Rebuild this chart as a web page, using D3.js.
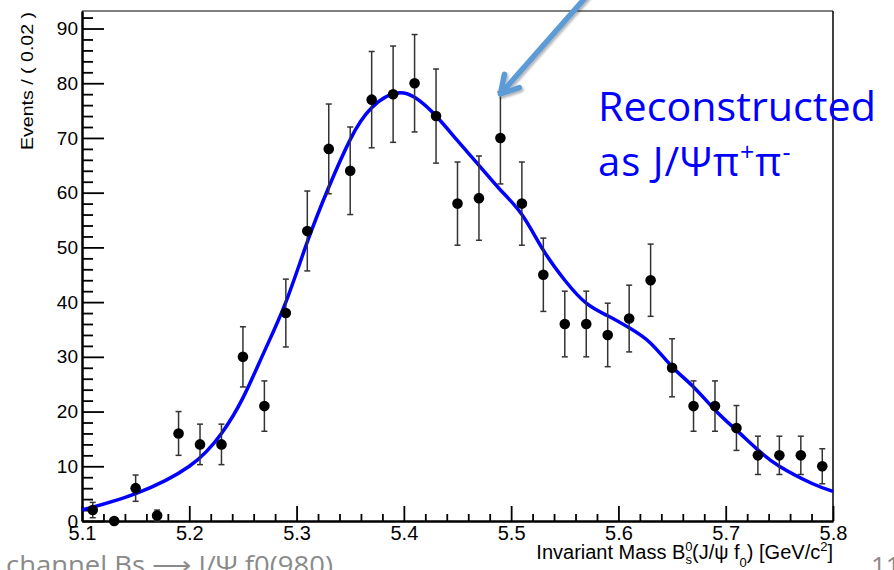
<!DOCTYPE html>
<html>
<head>
<meta charset="utf-8">
<script src="https://cdn.jsdelivr.net/npm/d3@7"></script>
<style>
  body { margin: 0; background: #fff; }
  svg { display: block; font-family: "Liberation Sans", Arial, sans-serif; }
</style>
</head>
<body>
<svg id="chart" width="894" height="570"></svg>
<script>
// bins of 0.02 GeV, counts
const binCenters = [5.11, 5.13, 5.15, 5.17, 5.19, 5.21, 5.23, 5.25, 5.27, 5.29,
                    5.31, 5.33, 5.35, 5.37, 5.39, 5.41, 5.43, 5.45, 5.47, 5.49,
                    5.51, 5.53, 5.55, 5.57, 5.59, 5.61, 5.63, 5.65, 5.67, 5.69,
                    5.71, 5.73, 5.75, 5.77, 5.79];
const events = [2, 0, 6, 1, 16, 14, 14, 30, 21, 38,
                53, 68, 64, 77, 78, 80, 74, 58, 59, 70,
                58, 45, 36, 36, 34, 37, 44, 28, 21, 21,
                17, 12, 12, 12, 10];
const errors = [1.4, 0, 2.4, 1, 4, 3.7, 3.7, 5.5, 4.6, 6.2,
                7.3, 8.2, 8, 8.8, 8.8, 8.9, 8.6, 7.6, 7.7, 8.4,
                7.6, 6.7, 6, 6, 5.8, 6.1, 6.6, 5.3, 4.6, 4.6,
                4.1, 3.5, 3.5, 3.5, 3.2];

// fit curve, sampled by eye
const fitX = [5.10, 5.15, 5.20, 5.23, 5.25, 5.27, 5.29, 5.31, 5.33, 5.35,
              5.37, 5.40, 5.43, 5.45, 5.47, 5.49, 5.51, 5.53, 5.55,
              5.57, 5.59, 5.61, 5.63, 5.65, 5.67, 5.69, 5.71, 5.73, 5.75,
              5.78, 5.80];
const fitY = [2.0, 5.0, 10, 16, 22.5, 31, 40, 51, 61, 69.7,
              75.5, 78.2, 74, 69.5, 65, 60.5, 56, 49.5, 44,
              39.8, 37.5, 35.3, 32.5, 28.2, 24.5, 20.3, 16.6, 13, 10,
              6.9, 5.4];

const xTicks = [5.1, 5.2, 5.3, 5.4, 5.5, 5.6, 5.7, 5.8];
const xMinor = [5.12, 5.14, 5.16, 5.18, 5.22, 5.24, 5.26, 5.28, 5.32, 5.34, 5.36, 5.38,
                5.42, 5.44, 5.46, 5.48, 5.52, 5.54, 5.56, 5.58, 5.62, 5.64, 5.66, 5.68,
                5.72, 5.74, 5.76, 5.78];
const yTicks = [0, 10, 20, 30, 40, 50, 60, 70, 80, 90];
const yMinor = [2, 4, 6, 8, 12, 14, 16, 18, 22, 24, 26, 28, 32, 34, 36, 38, 42, 44, 46, 48,
                52, 54, 56, 58, 62, 64, 66, 68, 72, 74, 76, 78, 82, 84, 86, 88, 92];

const svg = d3.select('#chart');

const x = d3.scaleLinear().domain([5.1, 5.8]).range([82, 833]);
const y = d3.scaleLinear().domain([0, 93.2]).range([521, 11]);

// drop shadow for the annotation arrow
const defs = svg.append('defs');
defs.append('filter').attr('id', 'shadow')
  .attr('x', '-20%').attr('y', '-20%').attr('width', '140%').attr('height', '140%')
  .append('feDropShadow')
  .attr('dx', 1.5).attr('dy', 2).attr('stdDeviation', 1.2)
  .attr('flood-color', '#000').attr('flood-opacity', 0.3);

// frame top / right
svg.append('line')
  .attr('x1', x(5.1)).attr('x2', x(5.8)).attr('y1', y(93.2)).attr('y2', y(93.2))
  .attr('stroke', '#555').attr('stroke-width', 1.5);
svg.append('line')
  .attr('x1', x(5.8)).attr('x2', x(5.8)).attr('y1', y(93.2)).attr('y2', y(0))
  .attr('stroke', '#000').attr('stroke-width', 1.5);

// y axis (ticks point inside the frame)
const gyMinor = svg.append('g').attr('transform', 'translate(' + x(5.1) + ',0)')
  .call(d3.axisLeft(y).tickValues(yMinor).tickSize(-11).tickSizeOuter(0).tickFormat(''));
const gy = svg.append('g').attr('transform', 'translate(' + x(5.1) + ',0)')
  .call(d3.axisLeft(y).tickValues(yTicks).tickSize(-22).tickSizeOuter(0).tickPadding(4));

// x axis
const gxMinor = svg.append('g').attr('transform', 'translate(0,' + y(0) + ')')
  .call(d3.axisBottom(x).tickValues(xMinor).tickSize(-7).tickSizeOuter(0).tickFormat(''));
const gx = svg.append('g').attr('transform', 'translate(0,' + y(0) + ')')
  .call(d3.axisBottom(x).tickValues(xTicks).tickSize(-15).tickSizeOuter(0).tickPadding(5)
    .tickFormat(d3.format('.1f')));

[gyMinor, gy, gxMinor, gx].forEach(g => {
  g.select('.domain').attr('stroke', '#000').attr('stroke-width', 2);
  g.selectAll('.tick line').attr('stroke', '#000').attr('stroke-width', 1.8);
  g.selectAll('.tick text').attr('fill', '#000')
    .style('font-family', '"Liberation Sans", Arial, sans-serif').style('font-size', '19px');
});
gx.selectAll('.tick text').style('font-size', '20px');

// axis titles
svg.append('text')
  .attr('transform', 'translate(33,12) rotate(-90)')
  .attr('text-anchor', 'end')
  .attr('textLength', 138).attr('lengthAdjust', 'spacingAndGlyphs')
  .style('font-size', '16px')
  .text('Events / ( 0.02 )');

const xt = svg.append('text')
  .attr('x', x(5.8)).attr('y', 559)
  .attr('text-anchor', 'end')
  .style('font-size', '20px');
xt.append('tspan').text('Invariant Mass B');
xt.append('tspan').attr('dy', -8).style('font-size', '13px').text('0');
xt.append('tspan').attr('dx', -7).attr('dy', 13).style('font-size', '13px').text('s');
xt.append('tspan').attr('dy', -5).text('(J/ψ f');
xt.append('tspan').attr('dy', 8).style('font-size', '13px').text('0');
xt.append('tspan').attr('dy', -8).text(') [GeV/c');
xt.append('tspan').attr('dy', -8).style('font-size', '13px').text('2');
xt.append('tspan').attr('dy', 8).text(']');

// fit
const line = d3.line()
  .x(d => x(d[0]))
  .y(d => y(d[1]))
  .curve(d3.curveNatural);

svg.append('path')
  .datum(fitX.map((v, i) => [v, fitY[i]]))
  .attr('d', line)
  .attr('fill', 'none')
  .attr('stroke', '#0000ff')
  .attr('stroke-width', 3.5);

// data points with error bars
const pts = binCenters.map((v, i) => ({ m: v, n: events[i], e: errors[i] }));

const bars = svg.append('g').attr('stroke', '#333').attr('stroke-width', 1.5);
pts.filter(d => d.e > 0).forEach(d => {
  bars.append('line')
    .attr('x1', x(d.m)).attr('x2', x(d.m))
    .attr('y1', y(d.n - d.e)).attr('y2', y(d.n + d.e));
  bars.append('line')
    .attr('x1', x(d.m) - 3).attr('x2', x(d.m) + 3)
    .attr('y1', y(d.n + d.e)).attr('y2', y(d.n + d.e));
  bars.append('line')
    .attr('x1', x(d.m) - 3).attr('x2', x(d.m) + 3)
    .attr('y1', y(d.n - d.e)).attr('y2', y(d.n - d.e));
});

svg.append('g').selectAll('circle')
  .data(pts)
  .enter().append('circle')
  .attr('cx', d => x(d.m))
  .attr('cy', d => y(d.n))
  .attr('r', 5.3)
  .attr('fill', '#000');

// annotation
const tipX = x(5.49), tipY = y(70 + 8.4) + 2;
const ang = Math.atan2(-102, 90);
const arrow = svg.append('g')
  .attr('filter', 'url(#shadow)')
  .attr('stroke', '#5b9bd5').attr('stroke-width', 5.5)
  .attr('stroke-linecap', 'round').attr('stroke-linejoin', 'round')
  .attr('fill', 'none');
arrow.append('line')
  .attr('x1', tipX + 90).attr('y1', tipY - 102)
  .attr('x2', tipX + 1).attr('y2', tipY - 1);
arrow.append('path')
  .attr('d', 'M' + (tipX + 20 * Math.cos(ang - 0.52)) + ',' + (tipY + 20 * Math.sin(ang - 0.52)) +
    'L' + tipX + ',' + tipY +
    'L' + (tipX + 20 * Math.cos(ang + 0.52)) + ',' + (tipY + 20 * Math.sin(ang + 0.52)));

const note = svg.append('g')
  .attr('fill', '#0000ff')
  .style('font-family', '"Open Sans", "Noto Sans", sans-serif')
  .style('font-size', '40px');
note.append('text')
  .attr('x', 598).attr('y', 121)
  .attr('textLength', 278).attr('lengthAdjust', 'spacingAndGlyphs')
  .text('Reconstructed');
const l2 = note.append('text').attr('x', 598).attr('y', 176)
  .style('letter-spacing', '1px');
l2.append('tspan').text('as J/Ψπ');
l2.append('tspan').attr('dy', -15).style('font-size', '25px').text('+');
l2.append('tspan').attr('dy', 15).text('π');
l2.append('tspan').attr('dy', -15).style('font-size', '25px').text('-');

// slide leftovers at the bottom edge
svg.append('text')
  .attr('x', 6).attr('y', 574)
  .attr('textLength', 327).attr('lengthAdjust', 'spacingAndGlyphs')
  .attr('fill', '#8a8a8a')
  .style('font-family', '"Open Sans", "Noto Sans", sans-serif')
  .style('font-size', '26px')
  .text('channel Bs ⟶ J/Ψ f0(980)');
svg.append('text')
  .attr('x', 871).attr('y', 575)
  .attr('fill', '#8a8a8a')
  .style('font-family', '"Open Sans", "Noto Sans", sans-serif')
  .style('font-size', '26px')
  .text('11');
</script>
</body>
</html>
